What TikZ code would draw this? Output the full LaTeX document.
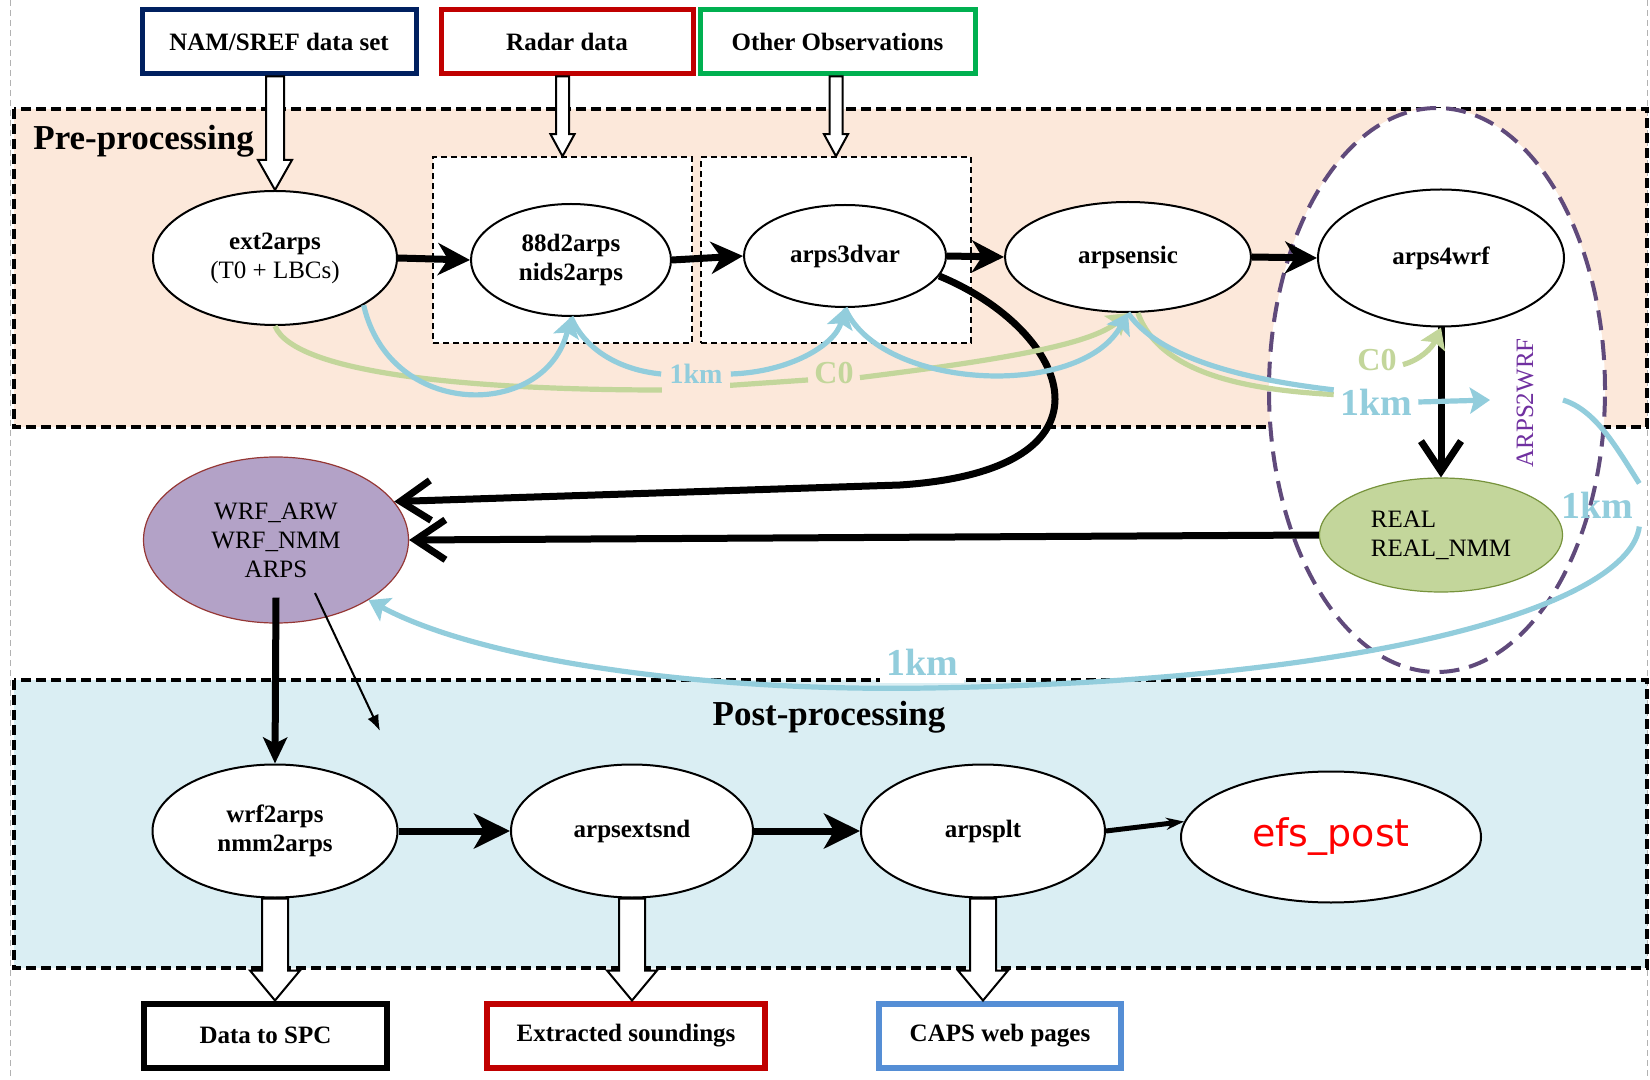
\documentclass[tikz,border=0pt]{standalone}
\usepackage{fontspec}
\setmainfont{Liberation Serif}
\newfontfamily\efsfont{DejaVu Sans}
\usetikzlibrary{arrows.meta,calc,shapes.geometric}
\definecolor{prefill}{HTML}{FCE8DA}
\definecolor{postfill}{HTML}{DAEEF3}
\definecolor{kmblue}{HTML}{92CDDC}
\definecolor{cgreen}{HTML}{C3D69B}
\definecolor{realedge}{HTML}{77933C}
\definecolor{wrffill}{HTML}{B3A2C7}
\definecolor{wrfedge}{HTML}{953735}
\definecolor{loopline}{HTML}{604A7B}
\definecolor{looptext}{HTML}{7030A0}
\definecolor{namedge}{HTML}{002060}
\definecolor{radaredge}{HTML}{C00000}
\definecolor{obsedge}{HTML}{00B050}
\definecolor{capsedge}{HTML}{558ED5}
\tikzset{
    every node/.style={font=\fontsize{12.5}{14.5}\selectfont},
    region/.style={draw, line width=2pt, dash pattern=on 5pt off 2.5pt},
    stage/.style={font=\fontsize{17.5}{20}\selectfont\bfseries, inner sep=0pt},
    groupbox/.style={draw, fill=white, line width=0.75pt, dash pattern=on 3pt off 2pt, inner sep=0pt},
    databox/.style={draw, line width=2.5pt, fill=white, minimum height=32pt,
        font=\fontsize{12.5}{14.5}\selectfont\bfseries},
    prog/.style={draw, ellipse, line width=1pt, fill=white, inner sep=0pt, align=center,
        font=\fontsize{12.5}{14.5}\selectfont\bfseries},
    model/.style={prog, line width=0.6pt, font=\fontsize{12.5}{14.5}\selectfont},
    loop/.style={draw=loopline, ellipse, fill=white, line width=2pt, dash pattern=on 10pt off 5pt,
        minimum width=168pt, minimum height=282pt, inner sep=0pt},
    kmlabel/.style={text=kmblue, font=\fontsize{19}{20}\selectfont\bfseries, inner xsep=3pt, inner ysep=4pt},
    c0label/.style={text=cgreen, font=\fontsize{16}{18}\selectfont\bfseries, inner xsep=3pt},
    blockline/.style={draw=black, fill=white, line width=1pt, line join=miter},
    flow/.style={line width=3.5pt, -{Stealth[length=16pt,width=16pt,inset=5pt]}},
    feed/.style={line width=3.5pt, -{Straight Barb[length=15pt,width=20pt]}},
    kmline/.style={kmblue, line width=2.6pt},
    c0line/.style={cgreen, line width=2.6pt},
    kmarrow/.style={kmline, -{Stealth[length=10pt,width=13pt,inset=2pt]}},
    c0arrow/.style={c0line, -{Stealth[length=10pt,width=13pt,inset=2pt]}}
}
\newcommand{\blockarrow}[5]{%
    \draw[blockline] ($(#1)+(-#3,0)$) -- ($(#2)+(-#3,-#5)$) -- ($(#2)+(-#4,-#5)$) -- (#2)
        -- ($(#2)+(#4,-#5)$) -- ($(#2)+(#3,-#5)$) -- ($(#1)+(#3,0)$) -- cycle;
}
\begin{document}
\begin{tikzpicture}[x=0.5pt,y=-0.5pt]
\useasboundingbox (0,0) rectangle (1650,1080);
% page edges
\draw[gray!60, line width=0.5pt, dash pattern=on 3pt off 2pt] (10,0) -- (10,1080) (1647,0) -- (1647,1080);
% stages
\draw[region, fill=prefill] (14,109) rectangle (1647,427);
\draw[region, fill=postfill] (14,680) rectangle (1647,968);
\node[loop] (loop) at (1437,390) {};
\node[stage, anchor=west] (pretitle) at (33,141) {Pre-processing};
\node[stage] (posttitle) at (829,717) {Post-processing};
\node[groupbox, minimum width=129.5pt, minimum height=93pt] (radargrp) at (562.5,250) {};
\node[groupbox, minimum width=135pt, minimum height=93pt] (obsgrp) at (836,250) {};
% inputs and outputs
\node[databox, draw=namedge, minimum width=137pt] (nam) at (279,42) {NAM/SREF data set};
\node[databox, draw=radaredge, minimum width=126pt] (radar) at (567,42) {Radar data};
\node[databox, draw=obsedge, minimum width=137.5pt] (obs) at (837.5,42) {Other Observations};
\node[databox, draw=black, line width=3pt, minimum width=121.5pt] (spc) at (265.5,1035.5) {Data to SPC};
\node[databox, draw=radaredge, line width=3pt, minimum width=139pt] (snd) at (626,1035.5) {Extracted soundings};
\node[databox, draw=capsedge, line width=3pt, minimum width=121pt] (caps) at (1000,1035.5) {CAPS web pages};
% programs
\node[prog, minimum width=122pt, minimum height=67pt] (ext) at (275,258) {ext2arps\\{\mdseries(T0 + LBCs)}};
\node[prog, minimum width=100pt, minimum height=56pt] (nids) at (571,260) {88d2arps\\nids2arps};
\node[prog, minimum width=101pt, minimum height=51pt] (a3dvar) at (845,256) {arps3dvar};
\node[prog, minimum width=123pt, minimum height=55pt] (sensic) at (1128,257) {arpsensic};
\node[prog, minimum width=123pt, minimum height=68.5pt] (a4wrf) at (1441,258) {arps4wrf};
\node[model, fill=cgreen, draw=realedge, align=left, minimum width=121.5pt, minimum height=57pt] (real) at (1441,535) {REAL\\REAL\_NMM};
\node[model, fill=wrffill, draw=wrfedge, minimum width=132.5pt, minimum height=83pt] (wrf) at (276,540) {WRF\_ARW\\WRF\_NMM\\ARPS};
\node[prog, minimum width=122.5pt, minimum height=66.5pt] (w2a) at (275,831) {wrf2arps\\nmm2arps};
\node[prog, minimum width=121pt, minimum height=66.5pt] (extsnd) at (632,831) {arpsextsnd};
\node[prog, minimum width=122pt, minimum height=66.5pt] (plt) at (983,831) {arpsplt};
\node[prog, text=red, font=\efsfont\fontsize{19}{22}\selectfont, minimum width=150pt, minimum height=65.5pt] (efs) at (1331,837) {efs\_post};
\node[text=looptext, rotate=90] (looplbl) at (1525,403) {ARPS2WRF};
% hollow arrows
\coordinate (namout) at (nam.south -| ext.north);
\coordinate (radarout) at (radar.south -| radargrp.north);
\coordinate (obsout) at (obs.south -| obsgrp.north);
\coordinate (spcin) at (spc.north -| w2a.south);
\coordinate (sndin) at (snd.north -| extsnd.south);
\coordinate (capsin) at (caps.north -| plt.south);
\blockarrow{namout}{ext.north}{9}{17}{30}
\blockarrow{radarout}{radargrp.north}{6.5}{12}{22}
\blockarrow{obsout}{obsgrp.north}{6.5}{12}{22}
\blockarrow{w2a.south}{spcin}{13}{25}{30}
\blockarrow{extsnd.south}{sndin}{13}{25}{30}
\blockarrow{plt.south}{capsin}{13}{25}{30}
% main flow
\draw[flow] (ext.east) -- (nids.west);
\draw[flow] (nids.east) -- (a3dvar.west);
\draw[flow] (a3dvar.east) -- (sensic.west);
\draw[flow] (sensic.east) -- (a4wrf.west);
\draw[feed] (a4wrf.south) -- (real.north);
\draw[feed] (real.west) -- (wrf.east);
\draw[feed] (a3dvar.-12) .. controls (1070,330) and (1130,470) .. (900,485) -- (wrf.18);
\draw[flow, -{Stealth[length=13pt,width=12pt,inset=3pt]}] ($(wrf.south)+(0,-26)$) -- (w2a.north);
\coordinate (wrfout) at (380,731);
\draw[line width=1pt, -{Latex[length=8pt,width=6pt]}] ($(wrf.center)+(39,53)$) -- (wrfout);
\draw[flow, -{Stealth[length=18pt,width=17.5pt,inset=5pt]}] (w2a.east) -- (extsnd.west);
\draw[flow, -{Stealth[length=18pt,width=17.5pt,inset=5pt]}] (extsnd.east) -- (plt.west);
\draw[line width=2.5pt, -{Stealth[length=9pt,width=6pt]}] (plt.east) -- (efs.174);
% resolution links
\node[c0label] (c01) at (834,373) {C0};
\node[c0label] (c02) at (1377,360) {C0};
\draw[c0line] (ext.south) .. controls (295,375) and (480,390) .. (663,390) -- (c01.195);
\node[kmlabel, fill=prefill, font=\fontsize{14}{16}\selectfont\bfseries, inner xsep=4pt, inner ysep=6pt] (km1) at (696,374) {1km};
\node[kmlabel] (km2) at (1376,402) {1km};
\node[kmlabel] (km3) at (1597,505) {1km};
\draw[kmarrow] (ext.-28) .. controls (390,420) and (545,420) .. (nids.south);
\draw[kmline] (km1.west) .. controls (620,370) and (585,350) .. (nids.south);
\draw[kmarrow] (km1.east) .. controls (790,372) and (835,345) .. (a3dvar.south);
\draw[c0arrow] (c01.-10) .. controls (1000,360) and (1090,345) .. (sensic.south);
\draw[kmarrow] (a3dvar.south) .. controls (880,390) and (1080,400) .. (sensic.south);
\draw[c0line] (sensic.-80) .. controls (1160,375) and (1250,390) .. (km2.170);
\draw[kmline] (sensic.south) .. controls (1160,360) and (1250,380) .. (km2.164);
\draw[c0arrow] (c02.-10) .. controls (1420,360) and (1432,348) .. (a4wrf.south);
\coordinate (km2out) at (1490,400);
\coordinate (loopin) at (1563,400);
\draw[kmarrow] (km2.east) -- (km2out);
\draw[kmline] (loopin) .. controls (1595,410) and (1615,445) .. (km3.north east);
\draw[kmarrow] (km3.south east) .. controls (1630,600) and (1400,680) .. (930,688)
    .. controls (700,692) and (480,660) .. (wrf.-33);
\node[kmlabel, fill=white] (km4) at (922,662) {1km};
\end{tikzpicture}
\end{document}
